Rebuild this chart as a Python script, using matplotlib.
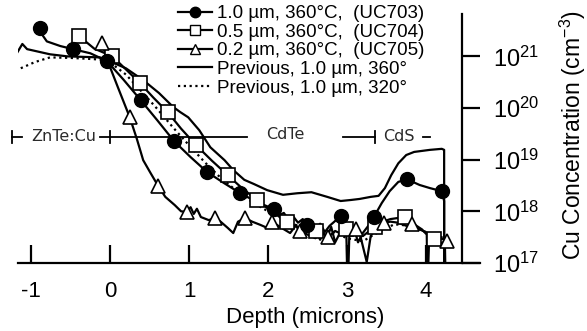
import numpy as np
import matplotlib
matplotlib.use("Agg")
import matplotlib.pyplot as plt
from matplotlib.lines import Line2D
from matplotlib.ticker import FixedLocator, FixedFormatter, NullLocator

plt.rcParams['font.family'] = ['Liberation Sans', 'DejaVu Sans']
plt.rcParams['mathtext.fontset'] = 'custom'
plt.rcParams['mathtext.rm'] = 'Liberation Sans'
plt.rcParams['mathtext.it'] = 'Liberation Sans'

# ---------------- data (depth in microns, log10 of Cu concentration) ----------------
uc703_line_depth = [-0.89, -0.85, -0.80, -0.63, -0.47, -0.25, -0.04, 0.17, 0.39, 0.60, 0.81, 1.02, 1.23,
                    1.44, 1.65, 1.86, 2.08, 2.14, 2.20, 2.26, 2.32, 2.38, 2.44, 2.49, 2.55, 2.60, 2.66,
                    2.72, 2.78, 2.84, 2.92, 2.98, 3.04, 3.10, 3.14, 3.20, 3.27, 3.34, 3.44, 3.54, 3.65,
                    3.76, 3.92, 4.05, 4.20, 4.23, 4.23]
uc703_line_log = [21.55, 21.40, 21.29, 21.20, 21.14, 21.06, 20.91, 20.55, 20.15, 19.76, 19.36, 19.05, 18.76,
                  18.55, 18.35, 18.18, 18.04, 17.92, 17.97, 17.84, 17.90, 17.78, 17.85, 17.74, 17.82, 17.65, 17.76,
                  17.60, 17.72, 17.80, 17.91, 17.70, 17.55, 17.62, 17.40, 17.58, 17.72, 17.89, 18.16, 18.39, 18.57,
                  18.62, 18.51, 18.45, 18.39, 18.20, 16.5]
uc703_mark_depth = [-0.89, -0.47, -0.04, 0.39, 0.81, 1.23, 1.65, 2.08, 2.49, 2.92, 3.34, 3.76, 4.20]
uc703_mark_log = [21.55, 21.14, 20.91, 20.15, 19.36, 18.76, 18.35, 18.04, 17.74, 17.91, 17.89, 18.62, 18.39]

uc704_line_depth = [-0.39, -0.20, 0.03, 0.20, 0.38, 0.55, 0.73, 0.90, 1.09, 1.29, 1.49, 1.67, 1.86, 2.00,
                    2.10, 2.17, 2.24, 2.30, 2.35, 2.40, 2.45, 2.52, 2.57, 2.61, 2.66, 2.70, 2.75, 2.80, 2.85,
                    2.90, 2.95, 2.99, 3.01, 3.03, 3.10, 3.20, 3.35, 3.45, 3.55, 3.73, 3.85, 3.95, 4.01, 4.02,
                    4.04, 4.10, 4.18, 4.24, 4.25]
uc704_line_log = [21.39, 21.15, 21.00, 20.75, 20.48, 20.20, 19.92, 19.60, 19.28, 18.98, 18.70, 18.45, 18.22, 18.05,
                  17.95, 17.86, 17.80, 17.66, 17.74, 17.62, 17.78, 17.60, 17.70, 17.62, 17.45, 17.58, 17.50, 17.70, 17.40,
                  17.55, 17.62, 17.66, 16.5, 17.55, 17.62, 17.52, 17.70, 17.80, 17.85, 17.89, 17.75, 17.65, 17.55, 16.5,
                  17.48, 17.46, 17.40, 17.35, 16.5]
uc704_mark_depth = [-0.39, 0.03, 0.38, 0.73, 1.09, 1.49, 1.86, 2.24, 2.61, 2.99, 3.35, 3.73, 4.10]
uc704_mark_log = [21.39, 21.00, 20.48, 19.92, 19.28, 18.70, 18.22, 17.80, 17.62, 17.66, 17.70, 17.89, 17.46]

uc705_line_depth = [-0.10, -0.04, 0.10, 0.25, 0.34, 0.42, 0.51, 0.61, 0.70, 0.82, 0.90, 0.97, 1.02, 1.06,
                    1.10, 1.15, 1.25, 1.33, 1.40, 1.49, 1.56, 1.62, 1.71, 1.80, 1.90, 1.99, 2.05, 2.15, 2.28,
                    2.35, 2.41, 2.50, 2.60, 2.68, 2.76, 2.85, 2.95, 3.05, 3.11, 3.16, 3.25, 3.30, 3.38, 3.47,
                    3.55, 3.65, 3.75, 3.82, 3.92, 4.02, 4.10, 4.18, 4.27]
uc705_line_log = [21.26, 20.95, 20.40, 19.82, 19.40, 18.99, 18.75, 18.49, 18.28, 18.12, 18.00, 17.99, 18.08, 17.95,
                  18.05, 17.89, 17.83, 17.87, 17.80, 17.68, 17.58, 17.80, 17.87, 17.80, 17.74, 17.68, 17.80, 17.70, 17.58,
                  17.72, 17.62, 17.55, 17.48, 17.60, 17.50, 17.62, 17.55, 17.60, 17.65, 17.58, 17.02, 17.52, 17.70, 17.78,
                  17.80, 17.78, 17.72, 17.75, 17.65, 17.58, 17.52, 17.48, 17.43]
uc705_mark_depth = [-0.10, 0.25, 0.61, 0.97, 1.33, 1.71, 2.05, 2.41, 2.76, 3.11, 3.47, 3.82, 4.27]
uc705_mark_log = [21.26, 19.82, 18.49, 17.99, 17.87, 17.87, 17.80, 17.62, 17.50, 17.65, 17.78, 17.75, 17.43]

prev360_depth = [-1.18, -1.11, -1.05, -0.76, -0.54, -0.13, -0.04, 0.20, 0.42, 0.62, 0.80, 0.89, 0.99, 1.13,
                 1.27, 1.45, 1.56, 1.70, 1.82, 1.99, 2.19, 2.37, 2.55, 2.75, 2.92, 3.05, 3.16, 3.30, 3.40,
                 3.48, 3.56, 3.65, 3.75, 3.85, 3.95, 4.05, 4.20, 4.23, 4.23]
prev360_log = [21.06, 21.24, 21.14, 21.04, 21.00, 20.98, 20.93, 20.77, 20.54, 20.29, 20.02, 19.92, 19.82, 19.57,
               19.24, 18.99, 18.80, 18.61, 18.53, 18.41, 18.32, 18.35, 18.37, 18.28, 18.20, 18.22, 18.24, 18.28, 18.30,
               18.45, 18.70, 18.93, 19.09, 19.15, 19.17, 19.19, 19.21, 19.19, 16.5]

prev320_depth = [-1.13, -0.95, -0.76, -0.50, -0.25, -0.04, 0.20, 0.40, 0.60, 0.80, 1.00, 1.20, 1.40, 1.60,
                 1.80, 2.00, 2.20, 2.40, 2.60, 2.80, 3.00, 3.20, 3.40, 3.60, 3.80, 4.00, 4.20, 4.24]
prev320_log = [20.77, 20.89, 20.98, 20.97, 20.95, 20.93, 20.65, 20.32, 19.98, 19.62, 19.28, 18.95, 18.65, 18.40,
               18.18, 18.00, 17.85, 17.70, 17.55, 17.62, 17.48, 17.42, 17.60, 17.75, 17.72, 17.60, 17.50, 17.30]

labels = ["1.0 µm, 360°C,  (UC703)", "0.5 µm, 360°C,  (UC704)", "0.2 µm, 360°C,  (UC705)",
          "Previous, 1.0 µm, 360°", "Previous, 1.0 µm, 320°"]
x_ticks = [-1, 0, 1, 2, 3, 4]
y_exps = [17, 18, 19, 20, 21]
y_ticklabels = [r'$\mathregular{10^{%d}}$' % e for e in y_exps]

layer_names = ["ZnTe:Cu", "CdTe", "CdS"]

def conc(v):
    return np.power(10.0, np.asarray(v, dtype=float))

# ---------------- figure ----------------
W, H = 587, 331
fig = plt.figure(figsize=(W / 100, H / 100), dpi=100)
ax = fig.add_axes([18 / W, 1 - 263 / H, (480 - 18) / W, (263 - 14) / H])
ax.set_yscale('log')
ax.set_xlim(-1.165, 4.684)
ax.set_ylim(1e17, 10 ** 21.82)

lw = 1.6
ax.plot(prev360_depth, conc(prev360_log), color='black', lw=lw, zorder=2)
ax.plot(prev320_depth, conc(prev320_log), color='black', lw=1.6, ls=(0, (1, 1.6)), zorder=2)
ax.plot(uc703_line_depth, conc(uc703_line_log), color='black', lw=lw, zorder=2)
ax.plot(uc704_line_depth, conc(uc704_line_log), color='black', lw=lw, zorder=2)
ax.plot(uc705_line_depth, conc(uc705_line_log), color='black', lw=lw, zorder=2)

ax.plot(uc704_mark_depth, conc(uc704_mark_log), ls='none', marker='s', ms=10, mfc='white', mec='black', mew=1.2, zorder=3)
ax.plot(uc705_mark_depth, conc(uc705_mark_log), ls='none', marker='^', ms=10, mfc='white', mec='black', mew=1.2, zorder=3)
ax.plot(uc703_mark_depth, conc(uc703_mark_log), ls='none', marker='o', ms=10, mfc='black', mec='black', zorder=4)

# spines and ticks
for s in ['top', 'left']:
    ax.spines[s].set_visible(False)
ax.spines['bottom'].set_linewidth(1.6)
ax.spines['right'].set_linewidth(1.6)
ax.spines['right'].set_position(('data', 4.456))
ax.yaxis.tick_right()
ax.yaxis.set_major_locator(FixedLocator(conc(y_exps)))
ax.yaxis.set_major_formatter(FixedFormatter(y_ticklabels))
ax.yaxis.set_minor_locator(NullLocator())
ax.tick_params(axis='y', which='major', direction='out', length=13, width=1.6, pad=9, labelsize=17)
ax.set_xticks(x_ticks)
ax.set_xticklabels([str(t) for t in x_ticks])
ax.tick_params(axis='x', which='major', direction='in', length=13, width=1.6, pad=13, labelsize=16)

fig.text(305 / W, 1 - 318 / H, "Depth (microns)", ha='center', va='center', fontsize=16)
fig.text(573 / W, 1 - 135 / H, r"Cu Concentration (cm$^{-3}$)", ha='center', va='center',
         rotation=90, fontsize=16.5)

# layer annotations
yl = 10 ** 19.44
tick_h = 0.12
kw = dict(color='black', lw=1.3, clip_on=False)
ax.plot([-1.24, -1.24], [yl * 10 ** -tick_h, yl * 10 ** tick_h], **kw)
ax.plot([-1.24, -1.11], [yl, yl], **kw)
ax.plot([-0.13, 1.73], [yl, yl], **kw)
ax.plot([0.0, 0.0], [yl * 10 ** -tick_h, yl * 10 ** tick_h], **kw)
ax.plot([2.95, 3.35], [yl, yl], **kw)
ax.plot([3.35, 3.35], [yl * 10 ** -tick_h, yl * 10 ** tick_h], **kw)
ax.plot([3.96, 4.05], [yl, yl], **kw)
tkw = dict(ha='center', va='center', fontsize=11.5, color='#2a2a2a', family='DejaVu Sans')
ax.text(-0.59, yl, layer_names[0], **tkw)
ax.text(2.22, yl * 10 ** 0.05, layer_names[1], **tkw)
ax.text(3.66, yl, layer_names[2], **tkw)

# legend
handles = [
    Line2D([], [], color='black', lw=lw, marker='o', ms=7.5, mfc='black', mec='black'),
    Line2D([], [], color='black', lw=lw, marker='s', ms=7.5, mfc='white', mec='black', mew=1.0),
    Line2D([], [], color='black', lw=lw, marker='^', ms=7.5, mfc='white', mec='black', mew=1.0),
    Line2D([], [], color='black', lw=lw),
    Line2D([], [], color='black', lw=1.6, ls=(0, (1, 1.6))),
]
leg = ax.legend(handles, labels, loc='upper left', bbox_to_anchor=(178 / W, 1 - 5 / H),
                bbox_transform=fig.transFigure, frameon=False, fontsize=13.5, borderpad=0,
                borderaxespad=0, labelspacing=0.08, handlelength=1.8, handletextpad=0.3,
                handleheight=0.7)

fig.savefig("out.png", dpi=100)
